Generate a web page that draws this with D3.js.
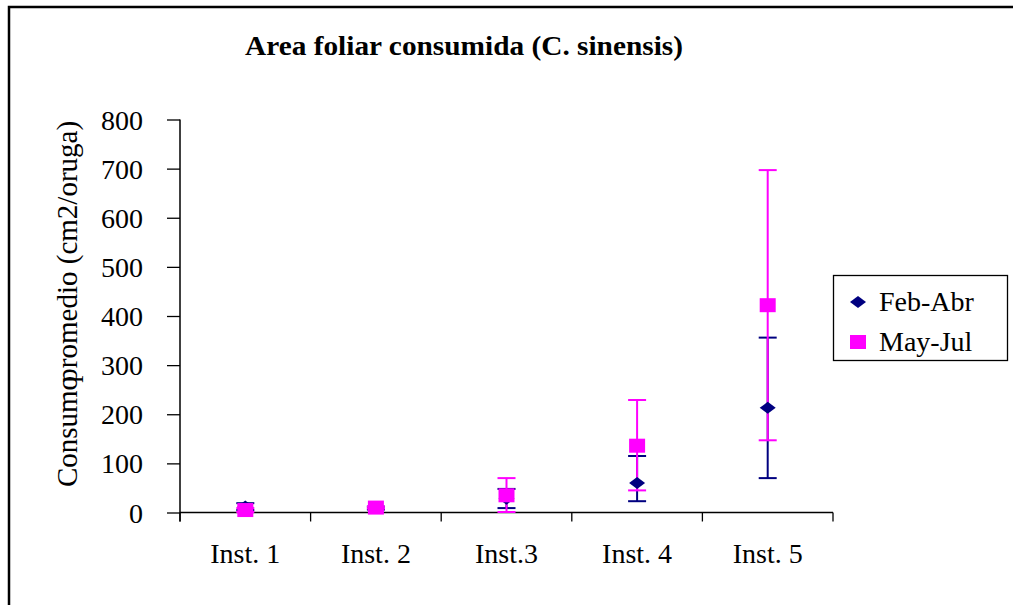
<!DOCTYPE html>
<html>
<head>
<meta charset="utf-8">
<script src="https://cdn.jsdelivr.net/npm/d3@7"></script>
<style>
  body { margin: 0; background: #fff; }
  text { font-family: "Liberation Serif", "Times New Roman", serif; }
</style>
</head>
<body>
<script>
// values
const categories = ["Inst. 1", "Inst. 2", "Inst.3", "Inst. 4", "Inst. 5"]
const febAbr = [12, 9, 28, 60, 213]
const febAbrLow = [5, 6, 9, 23, 70]
const febAbrHigh = [19, 12, 48, 115, 356]
const mayJul = [5, 10, 35, 136, 422]
const mayJulLow = [1, 8, 1, 45, 147]
const mayJulHigh = [9, 12, 70, 229, 697]
const yTicks = [0, 100, 200, 300, 400, 500, 600, 700, 800]

const m = { width: 1013, height: 605 }

const svg = d3.select("body").append("svg")
    .attr("width", m.width)
    .attr("height", m.height)

// outer chart frame (right/bottom edges fall outside the picture)
svg.append("rect")
    .attr("x", 9).attr("y", 7)
    .attr("width", 1100).attr("height", 700)
    .attr("fill", "none")
    .attr("stroke", "black")
    .attr("stroke-width", 2.5)

const x = d3.scaleBand().domain(categories).range([180, 833])
const y = d3.scaleLinear().domain([0, 800]).range([512.5, 119.5])

svg.append("text")
    .attr("x", 464).attr("y", 55)
    .attr("text-anchor", "middle")
    .attr("font-weight", "bold")
    .attr("font-size", 27)
    .attr("textLength", 438)
    .attr("lengthAdjust", "spacingAndGlyphs")
    .text("Area foliar consumida (C. sinensis)")

// y axis
const yAxis = svg.append("g")
    .attr("transform", "translate(180,0)")
    .call(d3.axisLeft(y).tickValues(yTicks).tickSize(13).tickSizeOuter(0).tickPadding(24))
yAxis.select(".domain").attr("stroke-width", 1.5)
    .attr("d", "M0," + y(800) + "V" + (y(0) + 9))
yAxis.selectAll(".tick line").attr("stroke-width", 1.3)
yAxis.selectAll("text").attr("font-size", 28).attr("font-family", "Liberation Serif, serif")
    .attr("dy", "0.34em")

// x axis: labels centred in bands, ticks on band edges
const xAxis = svg.append("g")
    .attr("transform", "translate(0," + y(0) + ")")
    .call(d3.axisBottom(x).tickSize(0).tickSizeOuter(0).tickPadding(31))
xAxis.select(".domain").attr("stroke-width", 1.5).attr("d", "M180,0H833")
xAxis.selectAll("text").attr("font-size", 28).attr("font-family", "Liberation Serif, serif")
xAxis.selectAll(".edge")
    .data(categories.concat(["end"]))
    .enter()
    .append("line")
    .attr("class", "edge")
    .attr("x1", (d, i) => 180 + i * x.bandwidth())
    .attr("x2", (d, i) => 180 + i * x.bandwidth())
    .attr("y1", 0).attr("y2", 9)
    .attr("stroke", "black")
    .attr("stroke-width", 1.3)

// y label: "Consumo" and "promedio" overlap slightly in the original
const yLabel = svg.append("text")
    .attr("transform", "translate(77,304) rotate(-90)")
    .attr("text-anchor", "middle")
    .attr("font-size", 29)
yLabel.append("tspan").text("Consumo ")
yLabel.append("tspan").attr("dx", -14).text("promedio (cm2/oruga)")

const series = [
    { name: "Feb-Abr", color: "#000080", vals: febAbr, low: febAbrLow, high: febAbrHigh, shape: "diamond" },
    { name: "May-Jul", color: "#ff00ff", vals: mayJul, low: mayJulLow, high: mayJulHigh, shape: "square" }
]

const cx = d => x(d) + x.bandwidth() / 2

// error bars
series.forEach(function (s) {
    const g = svg.append("g").attr("stroke", s.color).attr("stroke-width", 2)
    categories.forEach(function (c, i) {
        g.append("line").attr("x1", cx(c)).attr("x2", cx(c))
            .attr("y1", y(s.low[i])).attr("y2", y(s.high[i]))
        g.append("line").attr("x1", cx(c) - 9).attr("x2", cx(c) + 9)
            .attr("y1", y(s.low[i])).attr("y2", y(s.low[i]))
        g.append("line").attr("x1", cx(c) - 9).attr("x2", cx(c) + 9)
            .attr("y1", y(s.high[i])).attr("y2", y(s.high[i]))
    })
})

function marker(sel, shape, color) {
    if (shape == "diamond") {
        sel.append("path").attr("d", "M0,-6L8,0L0,6L-8,0Z").attr("fill", color)
    } else {
        sel.append("rect").attr("x", -8).attr("y", -7).attr("width", 16).attr("height", 14).attr("fill", color)
    }
}

// markers
series.forEach(function (s) {
    svg.append("g").selectAll("g")
        .data(s.vals)
        .enter()
        .append("g")
        .attr("transform", (d, i) => "translate(" + cx(categories[i]) + "," + y(d) + ")")
        .each(function () { marker(d3.select(this), s.shape, s.color) })
})

// legend
const legend = svg.append("g")
legend.append("rect")
    .attr("x", 833.5).attr("y", 275.5)
    .attr("width", 174).attr("height", 85)
    .attr("fill", "white").attr("stroke", "black").attr("stroke-width", 1.3)
series.forEach(function (s, i) {
    const row = legend.append("g").attr("transform", "translate(858," + (302 + i * 40) + ")")
    marker(row, s.shape, s.color)
    row.append("text").attr("x", 21).attr("y", 9).attr("font-size", 28).text(s.name)
})
</script>
</body>
</html>
